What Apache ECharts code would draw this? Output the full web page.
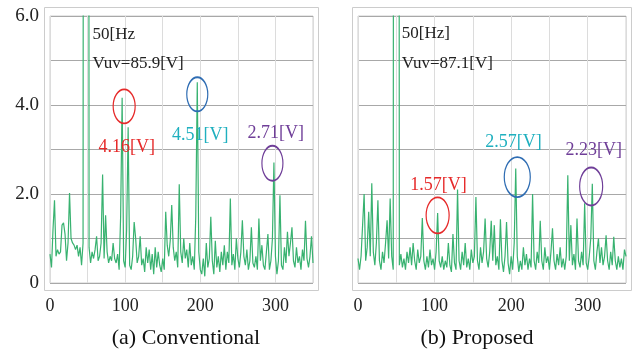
<!DOCTYPE html>
<html>
<head>
<meta charset="utf-8">
<script src="https://cdn.jsdelivr.net/npm/echarts@6/dist/echarts.min.js"></script>
<style>
  html, body { margin: 0; padding: 0; background: #fff; }
  #chart { width: 640px; height: 352px; }
</style>
</head>
<body>
<div id="chart"></div>
<script>
// frequency axis, one sample every 2 Hz from 0 to 350
const freqStep = 2;
const freqs = Array.from({ length: 176 }, (_, i) => i * freqStep);

// (a) Conventional - spectrum amplitude [V]
const convValues = [
  0.65, 0.35, 1.2, 1.86, 0.6, 0.75, 0.65, 0.7, 1.3, 1.35,
  1.1, 0.5, 0.9, 2.02, 1.0, 0.9, 0.85, 0.75, 0.85, 0.6,
  0.8, 0.4, 0.9, 60, 85.9, 60, 0.8, 0.45, 0.7, 0.55,
  0.75, 1.05, 0.5, 0.6, 0.9, 2.44, 0.55, 1.52, 0.7, 0.45,
  0.6, 0.5, 0.9, 0.55, 0.45, 0.65, 0.3, 1.5, 4.16, 0.5,
  0.35, 1.2, 3.5, 0.4, 0.3, 0.6, 1.37, 1.0, 0.45, 0.6,
  1.05, 0.4, 0.55, 0.25, 0.8, 0.45, 0.75, 0.3, 0.65, 0.2,
  0.8, 0.35, 0.7, 0.4, 0.25, 0.55, 0.3, 1.6, 0.85, 0.6,
  0.95, 1.75, 0.8, 0.5, 0.7, 0.35, 2.22, 0.7, 0.45, 1.0,
  0.55, 0.75, 0.35, 0.9, 0.4, 0.6, 0.3, 1.5, 4.51, 0.7,
  0.3, 0.2, 0.55, 0.15, 0.9, 0.35, 0.55, 1.49, 0.5, 0.2,
  0.95, 0.35, 0.6, 0.25, 0.7, 0.4, 0.85, 0.3, 0.7, 0.45,
  1.9, 0.4, 0.65, 0.3, 1.0, 0.55, 0.35, 0.7, 1.41, 0.6,
  0.4, 0.75, 0.3, 0.5, 1.25, 0.45, 0.35, 0.6, 0.3, 1.45,
  0.5, 0.85, 0.4, 0.3, 0.7, 1.1, 0.3, 0.5, 1.0, 2.71,
  0.6, 0.2, 0.5, 1.97, 0.4, 0.3, 0.8, 0.45, 1.15, 0.6,
  0.9, 1.25, 0.5, 0.35, 0.8, 0.45, 0.6, 0.3, 0.75, 0.5,
  1.4, 0.55, 0.35, 0.6, 1.05, 0.45
];

// (b) Proposed - spectrum amplitude [V]
const propValues = [
  0.55, 0.3, 0.6, 1.3, 2.0, 0.5, 0.8, 1.6, 0.6, 2.24,
  0.7, 0.4, 0.9, 1.86, 0.5, 0.3, 0.7, 0.45, 0.9, 1.41,
  0.55, 1.9, 0.6, 0.3, 60, 87.1, 60, 0.4, 0.65, 0.35,
  0.55, 0.3, 0.7, 0.45, 0.8, 0.4, 0.9, 0.5, 0.3, 0.75,
  0.45, 0.6, 1.46, 0.5, 0.3, 0.6, 0.35, 0.75, 0.4, 0.55,
  0.3, 0.7, 1.57, 0.5, 0.35, 0.6, 0.3, 0.5, 0.35, 0.9,
  0.4, 0.25, 1.1, 0.45, 0.3, 2.1, 0.5, 0.3, 0.7, 0.4,
  0.9, 0.35, 0.55, 0.3, 0.75, 0.45, 0.6, 1.93, 0.5, 0.3,
  0.8, 0.45, 0.7, 1.45, 0.55, 0.35, 0.7, 1.4, 0.5, 1.3,
  0.4, 0.6, 0.3, 1.43, 0.5, 0.25, 0.6, 1.37, 0.45, 0.2,
  0.6, 0.3, 0.9, 2.57, 0.6, 0.25, 0.5, 0.3, 0.8, 0.4,
  0.65, 0.3, 0.55, 0.35, 2.0, 0.5, 0.3, 0.7, 0.45, 1.4,
  0.5, 0.3, 0.8, 0.45, 0.6, 0.3, 0.7, 1.23, 0.5, 0.3,
  0.65, 0.4, 0.8, 0.35, 0.55, 0.3, 0.6, 2.42, 0.5, 1.3,
  0.4, 0.65, 0.3, 1.45, 0.5, 0.35, 0.7, 0.4, 1.79, 0.45,
  0.3, 0.6, 1.0, 2.23, 0.5, 0.3, 0.7, 1.0, 0.45, 0.8,
  0.4, 0.6, 1.07, 0.5, 0.3, 0.7, 0.4, 1.04, 0.5, 0.3,
  0.6, 0.35, 0.55, 0.3, 0.75, 0.6
];

const captions = ['(a) Conventional', '(b) Proposed'];
const xTicks = [0, 100, 200, 300];
const yTicks = [0, 2, 4, 6];

const serif = '"Liberation Serif", "DejaVu Serif", serif';
const red = '#e62a2a';
const teal = '#1fb0bf';
const blue = '#2f6db3';
const purple = '#6f3e98';
const green = '#38b270';

// annotation text as markPoint
function note(text, coord, color, align) {
  return {
    coord: coord,
    symbol: 'rect',
    symbolSize: 1,
    itemStyle: { color: 'rgba(0,0,0,0)' },
    label: {
      show: true,
      position: align === 'left' ? 'right' : 'inside',
      distance: 0,
      formatter: text,
      color: color,
      fontFamily: serif,
      fontSize: align === 'left' ? 17 : 18
    }
  };
}

// ellipse round a peak
function ring(coord, w, h, color) {
  return {
    coord: coord,
    symbol: 'circle',
    symbolSize: [w, h],
    itemStyle: { color: 'rgba(0,0,0,0)', borderColor: color, borderWidth: 1.5 },
    label: { show: false }
  };
}

const chart = echarts.init(document.getElementById('chart'), null, { renderer: 'canvas' });

const grids = [
  { left: 50, top: 16, width: 263, height: 267 },
  { left: 358, top: 16, width: 268, height: 267 }
];

const xAxisBase = {
  type: 'value',
  min: 0,
  max: 350,
  interval: 50,
  axisLine: { show: false },
  axisTick: { show: false },
  splitLine: { show: true, lineStyle: { color: '#dcdcdc', width: 1 } },
  axisLabel: {
    margin: 14,
    fontSize: 18,
    fontFamily: serif,
    color: '#222',
    formatter: v => (xTicks.indexOf(v) >= 0 ? String(v) : '')
  }
};

const yAxisBase = {
  type: 'value',
  min: 0,
  max: 6,
  interval: 1,
  axisLine: { show: false },
  axisTick: { show: false },
  splitLine: { show: true, lineStyle: { color: '#a8a8a8', width: 1 } },
  axisLabel: {
    margin: 11,
    fontSize: 19,
    fontFamily: serif,
    color: '#222',
    formatter: v => (yTicks.indexOf(v) >= 0 ? (v === 0 ? '0' : v.toFixed(1)) : '')
  }
};

const option = {
  backgroundColor: '#fff',
  animation: false,
  grid: grids.map(g => Object.assign({ show: true, borderColor: '#cfcfcf', borderWidth: 1 }, g)),
  xAxis: [
    Object.assign({ gridIndex: 0 }, xAxisBase),
    Object.assign({ gridIndex: 1 }, xAxisBase)
  ],
  yAxis: [
    Object.assign({ gridIndex: 0 }, yAxisBase),
    Object.assign({ gridIndex: 1 }, yAxisBase, {
      axisLabel: Object.assign({}, yAxisBase.axisLabel, { show: false })
    })
  ],
  series: [
    {
      name: captions[0],
      type: 'line',
      xAxisIndex: 0,
      yAxisIndex: 0,
      data: freqs.map((f, i) => [f, convValues[i]]),
      showSymbol: false,
      clip: true,
      lineStyle: { color: green, width: 1.2 },
      markPoint: {
        silent: true,
        data: [
          note('50[Hz', [56, 5.58], '#222', 'left'),
          note('Vuv=85.9[V]', [56, 4.93], '#222', 'left'),
          note('4.16[V]', [102, 3.05], red),
          note('4.51[V]', [200, 3.32], teal),
          note('2.71[V]', [300.5, 3.36], purple),
          ring([98.7, 3.97], 22, 34, red),
          ring([196, 4.24], 21, 34, blue),
          ring([296, 2.69], 21, 35, purple)
        ]
      }
    },
    {
      name: captions[1],
      type: 'line',
      xAxisIndex: 1,
      yAxisIndex: 1,
      data: freqs.map((f, i) => [f, propValues[i]]),
      showSymbol: false,
      clip: true,
      lineStyle: { color: green, width: 1.2 },
      markPoint: {
        silent: true,
        data: [
          note('50[Hz]', [56.5, 5.6], '#222', 'left'),
          note('Vuv=87.1[V]', [56.5, 4.93], '#222', 'left'),
          note('1.57[V]', [105, 2.2], red),
          note('2.57[V]', [203, 3.16], teal),
          note('2.23[V]', [308, 2.98], purple),
          ring([104, 1.52], 23, 36, red),
          ring([208, 2.38], 26, 40, blue),
          ring([304.5, 2.17], 23, 38, purple)
        ]
      }
    }
  ],
  graphic: [
    {
      type: 'rect', silent: true, z: -1,
      shape: { x: 44.5, y: 7.5, width: 274, height: 283 },
      style: { fill: 'none', stroke: '#cccccc', lineWidth: 1 }
    },
    {
      type: 'rect', silent: true, z: -1,
      shape: { x: 352.5, y: 7.5, width: 279, height: 283 },
      style: { fill: 'none', stroke: '#cccccc', lineWidth: 1 }
    },
    {
      type: 'text', silent: true,
      style: { x: 186, y: 338, text: captions[0], textAlign: 'center', textVerticalAlign: 'middle',
        fontFamily: serif, fontSize: 22, fill: '#111' }
    },
    {
      type: 'text', silent: true,
      style: { x: 477, y: 338, text: captions[1], textAlign: 'center', textVerticalAlign: 'middle',
        fontFamily: serif, fontSize: 22, fill: '#111' }
    }
  ]
};

chart.setOption(option);
</script>
</body>
</html>
